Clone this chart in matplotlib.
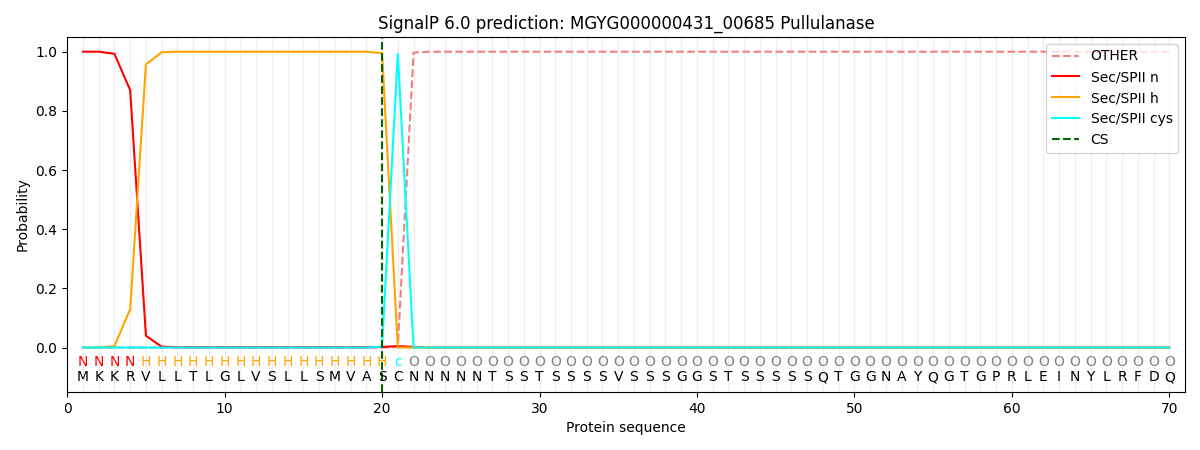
import matplotlib
matplotlib.use("Agg")
import matplotlib.pyplot as plt
import numpy as np

sequence = list("MKKRVLLTLGLVSLLSMVASCNNNNNTSSTSSSSVSSSGGSTSSSSSQTGGNAYQGTGPRLEINYLRFDQ")
region_labels = ["N"] * 4 + ["H"] * 16 + ["c"] + ["O"] * 49
positions = list(range(1, 71))

sec_n = [1.0, 1.0, 0.993, 0.87, 0.04, 0.003] + [0.001] * 13 + [0.002, 0.005, 0.002] + [0.0] * 48
sec_h = [0.0, 0.0, 0.005, 0.13, 0.957, 0.998] + [1.0] * 13 + [0.995, 0.0, 0.0] + [0.0] * 48
sec_cys = [0.0] * 19 + [0.003, 0.993, 0.0] + [0.0] * 48
other = [0.0] * 20 + [0.002, 0.997] + [1.0] * 48
cs_pos = 20

label_colors = {"N": "red", "H": "orange", "c": "cyan", "O": "gray"}

fig = plt.figure(figsize=(12, 4.5), dpi=100)
ax = fig.add_axes([0.056, 0.129, 0.9315, 0.789])

for p in positions:
    ax.axvline(p, color="#e8e8e8", linewidth=1, alpha=0.7, zorder=0)

ax.plot(positions, other, color="lightcoral", linestyle="--", label="OTHER", linewidth=1.5)
ax.plot(positions, sec_n, color="red", label="Sec/SPII n", linewidth=1.5)
ax.plot(positions, sec_h, color="orange", label="Sec/SPII h", linewidth=1.5)
ax.plot(positions, sec_cys, color="cyan", label="Sec/SPII cys", linewidth=1.5)
ax.axvline(cs_pos, color="darkgreen", linestyle="--", label="CS", linewidth=1.5)

for p, aa, lab in zip(positions, sequence, region_labels):
    ax.text(p, -0.1, aa, ha="center", va="center", fontsize=10, color="black")
    ax.text(p, -0.05, lab, ha="center", va="center", fontsize=10, color=label_colors[lab])

ax.set_xlim(0, 71)
ax.set_ylim(-0.15, 1.05)
ax.set_xticks([0, 10, 20, 30, 40, 50, 60, 70])
ax.set_yticks([0.0, 0.2, 0.4, 0.6, 0.8, 1.0])
ax.set_xlabel("Protein sequence")
ax.set_ylabel("Probability")
ax.set_title("SignalP 6.0 prediction: MGYG000000431_00685 Pullulanase")
ax.legend(loc="upper right")

fig.savefig("out.png", dpi=100)
